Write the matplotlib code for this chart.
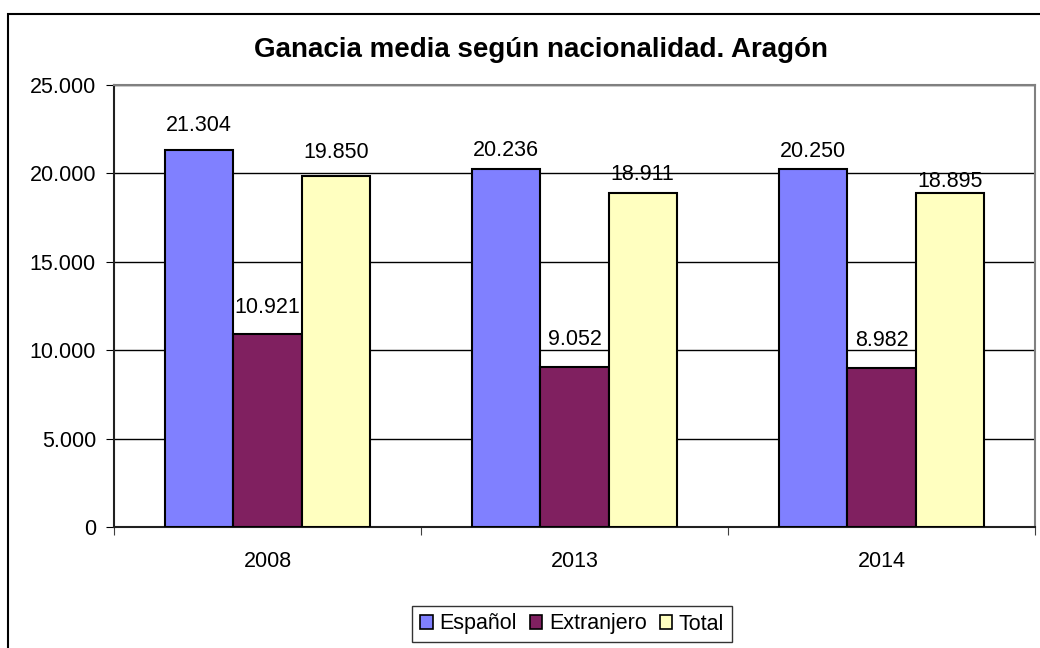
import matplotlib
matplotlib.use('Agg')
import matplotlib.pyplot as plt
import numpy as np
from matplotlib.patches import Rectangle, Patch
from matplotlib.ticker import FuncFormatter

years = ['2008', '2013', '2014']
espanol = [21304, 20236, 20250]
extranjero = [10921, 9052, 8982]
total = [19850, 18911, 18895]
series_names = ['Español', 'Extranjero', 'Total']

colors = ['#8080FF', '#802060', '#FFFFC0']
# label offsets above bar tops (px), as placed in the original
label_off = [[25, 19, 17], [26, 27, 28], [24, 18, 11]]

plt.rcParams['font.family'] = ['Liberation Sans', 'DejaVu Sans']
FS = 15.5

W, H = 1040, 648
fig = plt.figure(figsize=(W / 100, H / 100), dpi=100)
ax = fig.add_axes([114 / W, 1 - 527 / H, (1035 - 114) / W, (527 - 85) / H])

def dots(v, pos=None):
    return f'{int(round(v)):,}'.replace(',', '.')

x = np.arange(len(years))
bw = 1 / 4.5
series = [espanol, extranjero, total]
for i, vals in enumerate(series):
    xs = x + (i - 1) * bw
    ax.bar(xs, vals, width=bw, color=colors[i], edgecolor='black', linewidth=1.5,
           zorder=3)
    for j, v in enumerate(vals):
        ax.annotate(dots(v), (xs[j], v), xytext=(0, label_off[i][j] * 0.72),
                    textcoords='offset points', ha='center', va='center',
                    fontsize=FS, zorder=4)

ax.set_xlim(-0.5, 2.5)
ax.set_ylim(0, 25000)
ax.set_yticks(np.arange(0, 25001, 5000))
ax.yaxis.set_major_formatter(FuncFormatter(dots))
ax.grid(axis='y', color='black', linewidth=1, zorder=1)

ax.set_xticks([-0.5, 0.5, 1.5, 2.5])
ax.set_xticklabels([])
ax.set_xticks(x, minor=True)
ax.set_xticklabels(years, minor=True)
ax.tick_params(axis='x', which='minor', length=0, pad=17, labelsize=FS)
ax.tick_params(axis='x', which='major', length=6, direction='out', color='#404040')
ax.tick_params(axis='y', length=6, direction='out', labelsize=FS, pad=7)

for s in ['top', 'right']:
    ax.spines[s].set_color('#808080')
    ax.spines[s].set_linewidth(1.5)
for s in ['left', 'bottom']:
    ax.spines[s].set_color('#202020')
    ax.spines[s].set_linewidth(1.5)

fig.text(541 / W, 1 - 50 / H, 'Ganacia media según nacionalidad. Aragón',
         ha='center', va='center', fontsize=20, fontweight='bold')

handles = [Patch(facecolor=c, edgecolor='black', linewidth=1.2) for c in colors]
leg = fig.legend(handles, series_names, loc='center', bbox_to_anchor=(572 / W, 1 - 624 / H),
                 ncol=3, fontsize=FS, frameon=True, fancybox=False,
                 handlelength=0.6, handleheight=0.6, handletextpad=0.3,
                 columnspacing=0.6, borderpad=0.35, borderaxespad=0)
leg.get_frame().set_edgecolor('black')
leg.get_frame().set_linewidth(1)

# outer chart frame
fig.patches.append(Rectangle((8 / W, -0.1), 1.2, 1 - 14 / H + 0.1, transform=fig.transFigure,
                             fill=False, edgecolor='black', linewidth=1.5))

fig.savefig('out.png', dpi=100)
